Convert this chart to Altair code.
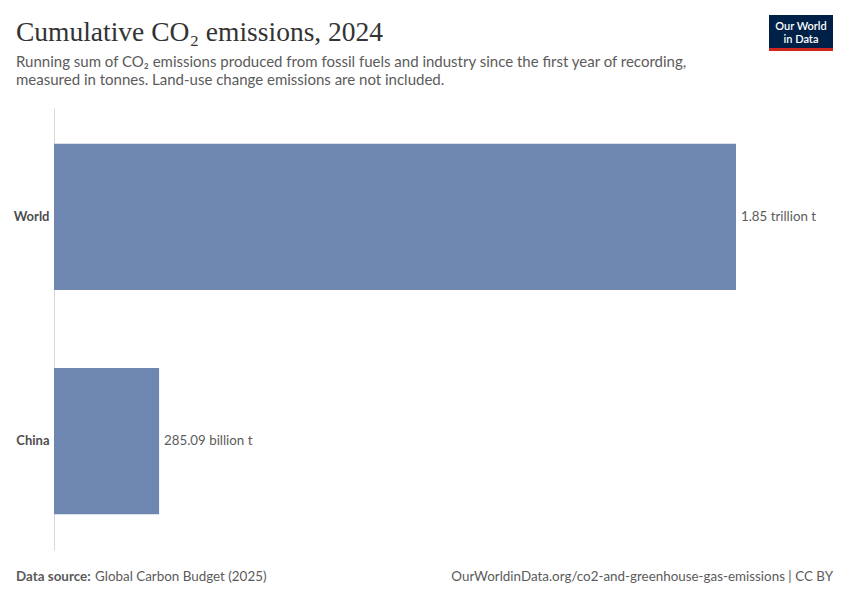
import altair as alt
import pandas as pd

entities = ["World", "China"]
values = [1.85e12, 285.09e9]
value_labels = ["1.85 trillion t", "285.09 billion t"]

title_text = "Cumulative CO₂ emissions, 2024"
subtitle_lines = [
    "Running sum of CO₂ emissions produced from fossil fuels and industry since the first year of recording,",
    "measured in tonnes. Land-use change emissions are not included.",
]
source_label = "Data source:"
source_text = "Global Carbon Budget (2025)"
url_text = "OurWorldinData.org/co2-and-greenhouse-gas-emissions | CC BY"
logo_lines = ["Our World", "in Data"]

df = pd.DataFrame({"entity": entities, "value": values, "label": value_labels})

W, H = 682, 442
FONT = "Lato"
GREY = "#5b5b5b"

x_enc = alt.X("value:Q", scale=alt.Scale(domain=[0, 1.85e12], nice=False), axis=None)
y_enc = alt.Y(
    "entity:N",
    sort=entities,
    scale=alt.Scale(paddingInner=0.348, paddingOuter=0.16),
    axis=alt.Axis(
        title=None,
        ticks=False,
        grid=False,
        domain=True,
        domainColor="#d9d9d9",
        domainWidth=1,
        labelFont=FONT,
        labelFontSize=13,
        labelFontWeight="bold",
        labelColor="#4d4d4d",
        labelPadding=5,
    ),
)

base = alt.Chart(df)
bars = base.mark_bar(color="#6d87b0").encode(x=x_enc, y=y_enc)
labels = base.mark_text(
    align="left", baseline="middle", dx=5, font=FONT, fontSize=13.3, color=GREY
).encode(x=x_enc, y=y_enc, text="label:N")


def txt(s, x, y, **kw):
    return alt.Chart(pd.DataFrame({"t": [s]})).mark_text(**kw).encode(
        x=alt.value(x), y=alt.value(y), text="t:N"
    )


title = txt(title_text, -38, -67, align="left", baseline="alphabetic",
            font="Liberation Serif", fontSize=27.5, color="#333333")
sub1 = txt(subtitle_lines[0], -38, -41, align="left", baseline="alphabetic",
           font=FONT, fontSize=15, color=GREY)
sub2 = txt(subtitle_lines[1], -38, -23, align="left", baseline="alphabetic",
           font=FONT, fontSize=15, color=GREY)
src1 = txt(source_label, -38, 473, align="left", baseline="alphabetic",
           font=FONT, fontSize=13.4, fontWeight="bold", color=GREY)
src2 = txt(source_text, 41, 473, align="left", baseline="alphabetic",
           font=FONT, fontSize=13.4, color=GREY)
url = txt(url_text, 779, 473, align="right", baseline="alphabetic",
          font=FONT, fontSize=13.4, color=GREY)

logo_bg = alt.Chart(pd.DataFrame({"a": [0]})).mark_rect(color="#002147").encode(
    x=alt.value(715), x2=alt.value(779), y=alt.value(-93), y2=alt.value(-57)
)
logo_red = alt.Chart(pd.DataFrame({"a": [0]})).mark_rect(color="#ce261e").encode(
    x=alt.value(715), x2=alt.value(779), y=alt.value(-60), y2=alt.value(-57)
)
logo1 = txt(logo_lines[0], 747, -81.5, align="center", baseline="middle",
            font=FONT, fontSize=11, fontWeight=600, color="white")
logo2 = txt(logo_lines[1], 747, -68.5, align="center", baseline="middle",
            font=FONT, fontSize=11, fontWeight=600, color="white")

chart = alt.layer(
    bars, labels, title, sub1, sub2, src1, src2, url, logo_bg, logo_red, logo1, logo2
).properties(
    width=W,
    height=H,
    background="white",
    autosize=alt.AutoSizeParams(type="none"),
    padding={"left": 46, "top": 100, "right": 106, "bottom": 42},
).configure_view(strokeWidth=0, stroke=None)

chart.save("out.html", embed_options={"renderer": "svg", "actions": False})
